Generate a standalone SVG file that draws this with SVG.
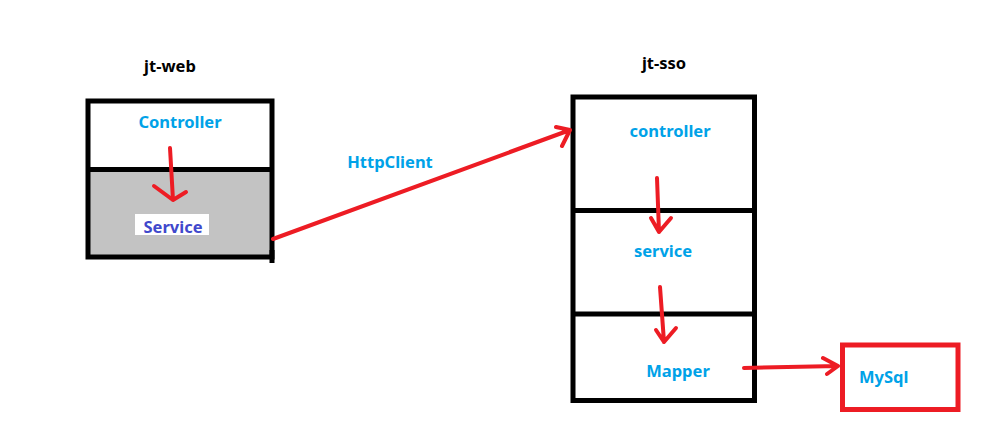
<svg xmlns="http://www.w3.org/2000/svg" width="997" height="443" viewBox="0 0 997 443">
<style>
.t{font-family:"Noto Sans","Open Sans","Liberation Sans",sans-serif;font-weight:bold;font-size:16.5px;text-anchor:middle}
.blue{fill:#00A2E8}
.box{fill:none;stroke:#000;stroke-width:5}
.div{stroke:#000;stroke-width:5}
.arr{fill:none;stroke:#ED1C24;stroke-width:4;stroke-linecap:round;stroke-linejoin:round}
</style>
<rect width="997" height="443" fill="#fff"/>
<g id="jt-web">
<text class="t" x="170" y="72" fill="#000">jt-web</text>
<rect x="88" y="170" width="183" height="86" fill="#C3C3C3"/>
<rect x="88" y="101" width="184" height="156" class="box"/>
<line x1="86" y1="169.5" x2="274" y2="169.5" class="div"/>
<line x1="272" y1="250" x2="272" y2="263" class="div"/>
<text class="t blue" x="180" y="128">Controller</text>
<rect x="135" y="214" width="74" height="21" fill="#fff"/>
<text class="t" x="173" y="233" fill="#3F48CC">Service</text>
</g>
<g id="jt-sso">
<text class="t" x="664" y="69" fill="#000">jt-sso</text>
<rect x="573" y="97" width="181.5" height="303.5" class="box"/>
<line x1="573" y1="210.5" x2="754.5" y2="210.5" class="div"/>
<line x1="573" y1="314" x2="754.5" y2="314" class="div"/>
<text class="t blue" x="670" y="137">controller</text>
<text class="t blue" x="663" y="257">service</text>
<text class="t blue" x="678" y="377">Mapper</text>
</g>
<g id="mysql">
<rect x="842.5" y="345" width="115.5" height="64.5" fill="none" stroke="#ED1C24" stroke-width="5"/>
<text class="t blue" x="859" y="383" style="text-anchor:start">MySql</text>
</g>
<g id="connectors">
<path class="arr" d="M170 148 L173 200 M154 186 L173 200 L186 192"/>
<path class="arr" d="M657 178 L659 232 M651 218 L659 232 L671 218"/>
<path class="arr" d="M660 287 L664 342 M656 330 L664 342 L676 328"/>
<path class="arr" d="M273 239 L570 130 M556 127 L570 130 L562 146"/>
<text class="t blue" x="390" y="168">HttpClient</text>
<path class="arr" d="M744 368 L838 366 M823 358 L838 366 L827 374"/>
</g>
</svg>
